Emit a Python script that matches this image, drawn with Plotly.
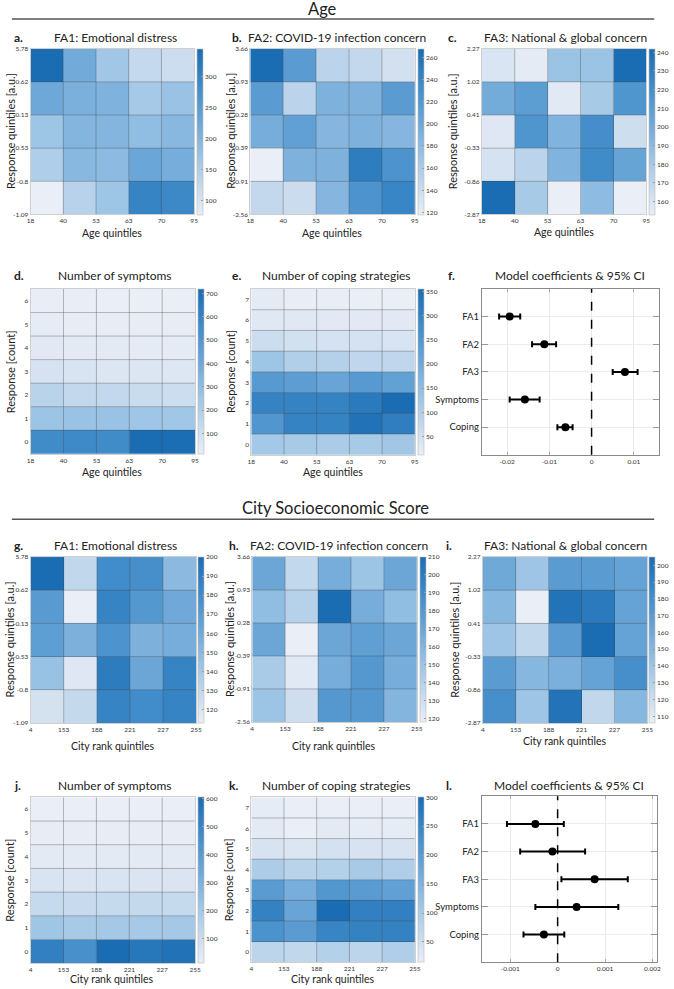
import plotly.graph_objects as go

W, H = 674, 989
FONT = "Lato"

# ---------------- data ----------------
age_ticks = ['18', '40', '53', '63', '70', '95']
city_ticks = ['4', '153', '188', '221', '227', '255']
fa1_ticks = ['-1.09', '-0.8', '-0.53', '-0.13', '0.62', '5.78']
fa2_ticks = ['-2.56', '-0.91', '-0.39', '0.28', '0.93', '3.66']
fa3_ticks = ['-2.87', '-0.86', '-0.33', '0.41', '1.02', '2.27']

# heatmap rows listed bottom -> top, columns left -> right
age_fa1 = [[78, 140, 170, 300, 290],
           [150, 195, 190, 230, 215],
           [170, 200, 200, 185, 195],
           [225, 210, 205, 160, 175],
           [345, 220, 165, 125, 115]]
age_fa2 = [[145, 140, 185, 225, 240],
           [118, 190, 190, 250, 225],
           [195, 210, 185, 190, 185],
           [215, 150, 190, 190, 215],
           [268, 215, 150, 145, 135]]
age_fa3 = [[242, 180, 153, 190, 153],
           [162, 172, 195, 222, 205],
           [158, 215, 195, 220, 165],
           [200, 210, 157, 180, 215],
           [160, 155, 185, 185, 242]]
age_symptoms = [[560, 570, 560, 720, 715],
                [260, 270, 270, 250, 245],
                [170, 140, 140, 120, 115],
                [80, 70, 60, 60, 55],
                [40, 35, 35, 30, 30],
                [25, 20, 20, 20, 20],
                [15, 15, 12, 12, 12]]
age_coping = [[120, 115, 110, 115, 125],
              [250, 300, 300, 340, 310],
              [300, 300, 300, 320, 355],
              [240, 230, 210, 240, 220],
              [130, 100, 95, 80, 80],
              [60, 50, 45, 45, 40],
              [30, 30, 25, 25, 25],
              [20, 15, 15, 12, 12]]

city_fa1 = [[122, 128, 185, 180, 185],
            [145, 118, 190, 162, 185],
            [168, 155, 175, 155, 158],
            [170, 113, 185, 172, 160],
            [200, 130, 180, 178, 150]]
city_fa2 = [[150, 130, 180, 180, 160],
            [145, 122, 165, 180, 165],
            [170, 118, 170, 175, 170],
            [155, 140, 210, 165, 155],
            [170, 135, 165, 150, 170]]
city_fa3 = [[180, 140, 200, 125, 150],
            [170, 150, 155, 165, 180],
            [140, 125, 170, 205, 165],
            [150, 106, 200, 195, 165],
            [160, 140, 170, 170, 165]]
city_symptoms = [[520, 450, 605, 560, 580],
                 [210, 190, 200, 195, 200],
                 [110, 105, 110, 115, 110],
                 [60, 55, 60, 55, 55],
                 [30, 30, 30, 30, 30],
                 [20, 20, 20, 20, 20],
                 [12, 12, 12, 12, 12]]
city_coping = [[75, 70, 85, 75, 90],
               [220, 200, 250, 255, 255],
               [255, 180, 300, 260, 260],
               [200, 160, 210, 200, 190],
               [95, 80, 85, 100, 90],
               [40, 35, 45, 40, 40],
               [25, 15, 25, 20, 20],
               [20, 15, 15, 15, 15]]

predictors = ['FA1', 'FA2', 'FA3', 'Symptoms', 'Coping']
age_coef = [-0.0194, -0.0112, 0.0079, -0.0158, -0.0062]
age_lo = [-0.0219, -0.0141, 0.0050, -0.0194, -0.0081]
age_hi = [-0.0169, -0.0084, 0.0109, -0.0123, -0.0045]
city_coef = [-0.00047, -0.00011, 0.00078, 0.00040, -0.00029]
city_lo = [-0.00107, -0.00079, 0.00008, -0.00047, -0.00072]
city_hi = [0.00013, 0.00058, 0.00148, 0.00128, 0.00014]

# ---------------- styling ----------------
CSCALE = [[0.0, '#eaeef6'], [0.15, '#cadcee'], [0.35, '#9cc4e5'],
          [0.55, '#6ea8d8'], [0.78, '#3f8bc9'], [1.0, '#1a6cb3']]

fig = go.Figure()
shapes = []
annotations = []


def ax_names(n):
    s = '' if n == 1 else str(n)
    return 'x' + s, 'y' + s, 'xaxis' + s, 'yaxis' + s


def ann(text, x, y, size, bold=False, angle=0, xanchor='center', color='#222'):
    annotations.append(dict(
        text=('<b>%s</b>' % text) if bold else text,
        x=x / W, y=1 - y / H, xref='paper', yref='paper',
        xanchor=xanchor, yanchor='middle', showarrow=False, textangle=angle,
        font=dict(family=FONT, size=size, color=color)))


layout_axes = {}


def heat_panel(n, z, xt, yt, box, cbx, dtick, count=False):
    x0, x1, y0, y1 = box
    xa, ya, xk, yk = ax_names(n)
    ncol = len(z[0])
    nrow = len(z)
    xs = [i + 0.5 for i in range(ncol)]
    if count:
        ys = list(range(nrow))
        yr = [-0.5, nrow - 0.5]
        ytv = ys
        ytt = [str(v) for v in ys]
        hlines = [v + 0.5 for v in ys[:-1]]
    else:
        ys = [i + 0.5 for i in range(nrow)]
        yr = [0, nrow]
        ytv = list(range(nrow + 1))
        ytt = yt
        hlines = list(range(1, nrow))
    fig.add_trace(go.Heatmap(
        z=z, x=xs, y=ys, xaxis=xa, yaxis=ya, colorscale=CSCALE,
        colorbar=dict(x=cbx / W, xanchor='left', y=1 - (y0 + y1) / 2 / H,
                      yanchor='middle', len=(y1 - y0) / H, lenmode='fraction',
                      thickness=6, thicknessmode='pixels', xpad=0, ypad=0,
                      outlinewidth=0.6, outlinecolor='#bbbbbb',
                      ticks='inside', ticklen=2, tickcolor='#999', dtick=dtick,
                      tickfont=dict(family=FONT, size=6.5, color='#333'))))
    layout_axes[xk] = dict(domain=[x0 / W, x1 / W], anchor=ya, range=[0, ncol],
                           tickvals=list(range(ncol + 1)), ticktext=xt,
                           showgrid=False, zeroline=False, ticks='',
                           showline=True, mirror=True, linecolor='#cfcfcf', linewidth=1,
                           tickfont=dict(family=FONT, size=6.5, color='#333'))
    layout_axes[yk] = dict(domain=[1 - y1 / H, 1 - y0 / H], anchor=xa, range=yr,
                           tickvals=ytv, ticktext=ytt,
                           showgrid=False, zeroline=False, ticks='',
                           showline=True, mirror=True, linecolor='#cfcfcf', linewidth=1,
                           tickfont=dict(family=FONT, size=6.5, color='#333'))
    for v in range(1, ncol):
        shapes.append(dict(type='line', xref=xa, yref=ya, x0=v, x1=v, y0=yr[0], y1=yr[1],
                           line=dict(color='rgba(70,70,70,0.35)', width=1), layer='above'))
    for v in hlines:
        shapes.append(dict(type='line', xref=xa, yref=ya, x0=0, x1=ncol, y0=v, y1=v,
                           line=dict(color='rgba(70,70,70,0.35)', width=1), layer='above'))


def forest_panel(n, coef, lo, hi, box, xr, tv, tt):
    x0, x1, y0, y1 = box
    xa, ya, xk, yk = ax_names(n)
    ypos = list(range(1, len(predictors) + 1))
    fig.add_trace(go.Scatter(
        x=coef, y=ypos, xaxis=xa, yaxis=ya, mode='markers',
        marker=dict(color='black', size=8),
        error_x=dict(type='data', symmetric=False,
                     array=[h - c for h, c in zip(hi, coef)],
                     arrayminus=[c - l for c, l in zip(coef, lo)],
                     color='black', thickness=2, width=3),
        showlegend=False))
    layout_axes[xk] = dict(domain=[x0 / W, x1 / W], anchor=ya, range=xr,
                           tickvals=tv, ticktext=tt, showgrid=True, gridcolor='#e8e8e8',
                           zeroline=False, showline=True, mirror='ticks',
                           linecolor='#8a8a8a', ticks='inside', ticklen=3, tickcolor='#aaa',
                           tickfont=dict(family=FONT, size=6.5, color='#333'))
    layout_axes[yk] = dict(domain=[1 - y1 / H, 1 - y0 / H], anchor=xa,
                           range=[len(predictors) + 1, 0],
                           tickvals=ypos, ticktext=predictors, showgrid=True,
                           gridcolor='#ececec', zeroline=False, showline=True,
                           mirror='ticks', linecolor='#8a8a8a', ticks='inside',
                           ticklen=6, tickcolor='#999',
                           tickfont=dict(family=FONT, size=9.5, color='#222'))
    shapes.append(dict(type='line', xref=xa, yref=ya + ' domain', x0=0, x1=0, y0=0, y1=1,
                       line=dict(color='black', width=1.5, dash='dash'), layer='above'))


# ---------------- Age section ----------------
heat_panel(1, age_fa1, age_ticks, fa1_ticks, (27, 193, 45, 212), 196, 50)
heat_panel(2, age_fa2, age_ticks, fa2_ticks, (250, 417, 45, 212), 420, 20)
heat_panel(3, age_fa3, age_ticks, fa3_ticks, (485, 652, 45, 212), 655, 10)
heat_panel(4, age_symptoms, age_ticks, None, (27, 194, 287, 453), 197, 100, count=True)
heat_panel(5, age_coping, age_ticks, None, (251, 417, 287, 454), 420, 50, count=True)
forest_panel(6, age_coef, age_lo, age_hi, (485, 665, 287, 454), [-0.026, 0.016],
             [-0.02, -0.01, 0, 0.01], ['-0.02', '-0.01', '0', '0.01'])

# ---------------- City section ----------------
heat_panel(7, city_fa1, city_ticks, fa1_ticks, (27, 195, 557, 724), 197, 10)
heat_panel(8, city_fa2, city_ticks, fa2_ticks, (252, 419, 557, 723), 422, 10)
heat_panel(9, city_fa3, city_ticks, fa3_ticks, (486, 653, 557, 724), 655, 10)
heat_panel(10, city_symptoms, city_ticks, None, (27, 194, 799, 966), 197, 100, count=True)
heat_panel(11, city_coping, city_ticks, None, (251, 417, 799, 965), 420, 50, count=True)
forest_panel(12, city_coef, city_lo, city_hi, (485, 663, 798, 965), [-0.0016, 0.0021],
             [-0.001, 0, 0.001, 0.002], ['-0.001', '0', '0.001', '0.002'])

# ---------------- text ----------------
ann('Age', 323, 5, 16.5)
ann('City Socioeconomic Score', 336, 508, 16.5)
for yy in (15, 519):
    shapes.append(dict(type='line', xref='paper', yref='paper', x0=8 / W, x1=660 / W,
                       y0=1 - yy / H, y1=1 - yy / H, line=dict(color='#555', width=1.5)))

titles = [
    ('a.', 8, 'FA1: Emotional distress', 113, 34),
    ('b.', 229, 'FA2: COVID-19 infection concern', 338, 34),
    ('c.', 449, 'FA3: National & global concern', 570, 34),
    ('d.', 8, 'Number of symptoms', 113, 273),
    ('e.', 229, 'Number of coping strategies', 338, 273),
    ('f.', 449, 'Model coefficients & 95% CI', 575, 273),
    ('g.', 8, 'FA1: Emotional distress', 113, 545),
    ('h.', 226, 'FA2: COVID-19 infection concern', 340, 545),
    ('i.', 447, 'FA3: National & global concern', 570, 545),
    ('j.', 8, 'Number of symptoms', 113, 787),
    ('k.', 226, 'Number of coping strategies', 338, 787),
    ('l.', 447, 'Model coefficients & 95% CI', 574, 787),
]
for lab, lx, t, tx, ty in titles:
    ann(lab, lx, ty, 12, bold=True, xanchor='left')
    ann(t, tx, ty, 12)

# x-axis titles
for t, x, y in [('Age quintiles', 110, 231), ('Age quintiles', 333, 231),
                ('Age quintiles', 568, 230), ('Age quintiles', 110, 471),
                ('Age quintiles', 334, 471),
                ('City rank quintiles', 111, 747), ('City rank quintiles', 335, 747),
                ('City rank quintiles', 569, 742), ('City rank quintiles', 110, 982),
                ('City rank quintiles', 334, 982)]:
    ann(t, x, y, 10.5)

# y-axis titles
for t, x, yc in [('Response quintiles [a.u.]', 6, 128), ('Response quintiles [a.u.]', 229, 128),
                 ('Response quintiles [a.u.]', 455, 128),
                 ('Response [count]', 6, 370), ('Response [count]', 230, 370),
                 ('Response quintiles [a.u.]', 6, 640), ('Response quintiles [a.u.]', 229, 640),
                 ('Response quintiles [a.u.]', 457, 640),
                 ('Response [count]', 6, 882), ('Response [count]', 228, 882)]:
    ann(t, x, yc, 11, angle=-90)

fig.update_layout(width=W, height=H, margin=dict(l=0, r=0, t=0, b=0),
                  paper_bgcolor='white', plot_bgcolor='white', showlegend=False,
                  shapes=shapes, annotations=annotations,
                  font=dict(family=FONT, color='#222'), **layout_axes)

fig.write_html("out.html", config={'displayModeBar': False},
               post_script="document.body.style.margin='0';document.body.style.padding='0';"
                           "document.documentElement.style.overflow='hidden';")
